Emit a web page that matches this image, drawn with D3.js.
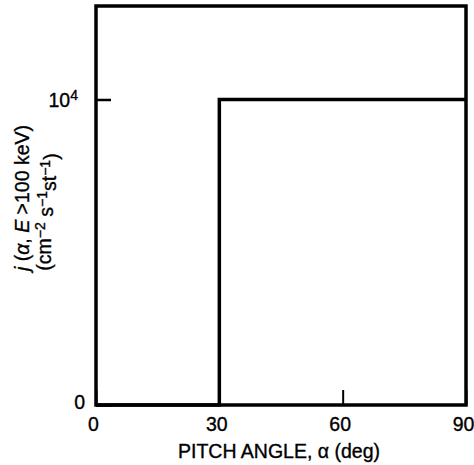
<!DOCTYPE html>
<html>
<head>
<meta charset="utf-8">
<script src="https://cdn.jsdelivr.net/npm/d3@7"></script>
<style>
  html, body { margin: 0; padding: 0; background: #fff; }
  svg { display: block; }
  text { font-family: "Liberation Sans", Arial, Helvetica, sans-serif; fill: #000; stroke: #000; stroke-width: 0.35px; }
</style>
</head>
<body>
<svg id="chart" width="474" height="465"></svg>
<script>
// Pitch-angle distribution of the flux: zero below 30 deg, flat 10^4 above.
const pitchAngle = [0, 30, 30, 90];
const flux = [0, 0, 10000, 10000];

const xTicks = [0, 30, 60, 90];
const yTicks = [0, 10000];
const xDomain = [0, 90];
const yDomain = [0, 13060];

const xTitle = "PITCH ANGLE, \u03b1 (deg)";

const plot = { left: 96, right: 466, top: 6, bottom: 405 };

const svg = d3.select("#chart");

const x = d3.scaleLinear().domain(xDomain).range([plot.left, plot.right]);
const y = d3.scaleLinear().domain(yDomain).range([plot.bottom, plot.top]);

// X axis: short inward ticks, labels below the frame
const gx = svg.append("g")
  .attr("transform", `translate(0,${plot.bottom})`)
  .call(d3.axisBottom(x).tickValues(xTicks).tickSize(-15).tickPadding(12).tickFormat(d3.format("d")));
gx.select(".domain").remove();
gx.selectAll(".tick line").attr("stroke", "#000").attr("stroke-width", 2);
gx.selectAll(".tick text")
  .attr("font-size", 19.5)
  .attr("dx", -3)
  .attr("font-family", "Liberation Sans, Arial, sans-serif");

// Y axis: inward ticks, 0 and 10^4 labels
const gy = svg.append("g")
  .attr("transform", `translate(${plot.left},0)`)
  .call(d3.axisLeft(y).tickValues(yTicks).tickSize(-15).tickPadding(11).tickFormat(d3.format("d")));
gy.select(".domain").remove();
gy.selectAll(".tick line").attr("stroke", "#000").attr("stroke-width", 2.5);
gy.selectAll(".tick text")
  .attr("font-size", 19.5)
  .attr("font-family", "Liberation Sans, Arial, sans-serif")
  .each(function (d) {
    const t = d3.select(this);
    if (d === 10000) {
      t.text("").attr("x", -18).attr("dy", "0.36em");
      t.append("tspan").text("10");
      t.append("tspan").attr("dy", "-0.5em").attr("font-size", "0.72em").text("4");
    } else {
      t.attr("dy", "0.16em");
    }
  });

// Step curve of the distribution
const line = d3.line()
  .x((d, i) => x(pitchAngle[i]))
  .y((d, i) => y(flux[i]));
svg.append("path")
  .datum(flux)
  .attr("d", line)
  .attr("fill", "none")
  .attr("stroke", "#000")
  .attr("stroke-width", 3.5)
  .attr("stroke-linejoin", "miter");

// Plot frame
svg.append("rect")
  .attr("x", plot.left)
  .attr("y", plot.top)
  .attr("width", plot.right - plot.left)
  .attr("height", plot.bottom - plot.top)
  .attr("fill", "none")
  .attr("stroke", "#000")
  .attr("stroke-width", 3.5);

// X axis title
svg.append("text")
  .attr("x", 279)
  .attr("y", 458)
  .attr("text-anchor", "middle")
  .attr("font-size", 19.5)
  .text(xTitle);

// Y axis title (two lines, rotated)
const yt1 = svg.append("text")
  .attr("transform", "translate(29,198) rotate(-90)")
  .attr("text-anchor", "middle")
  .attr("font-size", 19.5);
yt1.append("tspan").attr("font-style", "italic").text("j");
yt1.append("tspan").text(" (");
yt1.append("tspan").attr("font-style", "italic").text("\u03b1");
yt1.append("tspan").text(", ");
yt1.append("tspan").attr("font-style", "italic").text("E");
yt1.append("tspan").text(" >100 keV)");

const yt2 = svg.append("text")
  .attr("transform", "translate(51,212) rotate(-90)")
  .attr("text-anchor", "middle")
  .attr("font-size", 19.5);
yt2.append("tspan").text("(cm");
yt2.append("tspan").attr("dy", "-0.45em").attr("font-size", "0.72em").text("\u22122");
yt2.append("tspan").attr("dy", "0.45em").text(" s");
yt2.append("tspan").attr("dy", "-0.45em").attr("font-size", "0.72em").text("\u22121");
yt2.append("tspan").attr("dy", "0.45em").text("st");
yt2.append("tspan").attr("dy", "-0.45em").attr("font-size", "0.72em").text("\u22121");
yt2.append("tspan").attr("dy", "0.45em").text(")");
</script>
</body>
</html>
